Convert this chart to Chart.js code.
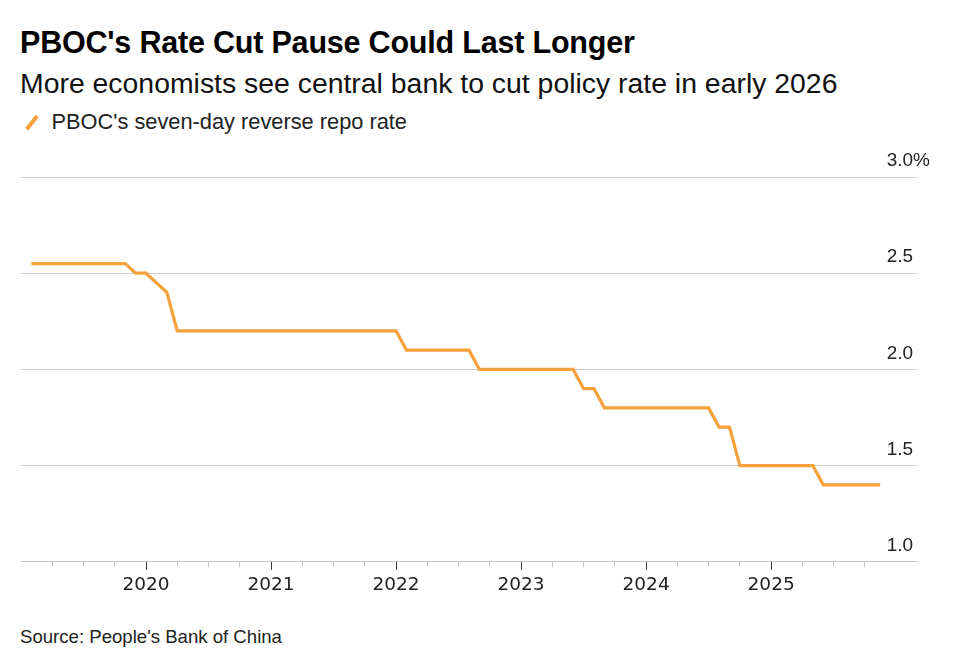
<!DOCTYPE html>
<html>
<head>
<meta charset="utf-8">
<script src="https://cdn.jsdelivr.net/npm/chart.js@4.4.1/dist/chart.umd.min.js"></script>
<style>
  body { margin: 0; width: 955px; height: 670px; background: #fff; position: relative; overflow: hidden;
         font-family: "Liberation Sans", Arial, sans-serif; color: #000; }
  .title { position: absolute; left: 20px; top: 24px; font-size: 30.5px; font-weight: bold; line-height: 36px; letter-spacing: -0.2px; white-space: nowrap; }
  .subtitle { position: absolute; left: 20px; top: 67px; font-size: 28.4px; line-height: 32px; color: #111; white-space: nowrap; }
  .legend { position: absolute; left: 20px; top: 110px; font-size: 21.8px; line-height: 24px; color: #222; white-space: nowrap; }
  .legend .mark { display: inline-block; width: 3.5px; height: 17px; background: #f6a13a; transform: rotate(38deg);
                  margin: 0 18px 0 10px; vertical-align: -2px; border-radius: 1px; }
  .source { position: absolute; left: 20px; top: 626px; font-size: 18.6px; line-height: 22px; color: #222; white-space: nowrap; }
  #wrap { position: absolute; left: 0; top: 140px; width: 955px; height: 470px; }
</style>
</head>
<body>
<div class="title">PBOC's Rate Cut Pause Could Last Longer</div>
<div class="subtitle">More economists see central bank to cut policy rate in early 2026</div>
<div class="legend"><span class="mark"></span>PBOC's seven-day reverse repo rate</div>
<div id="wrap"><canvas id="chart" width="955" height="470"></canvas></div>
<div class="source">Source: People's Bank of China</div>

<script>
// month of each reading (value at start of month)
const months = [
    '2019-02', '2019-03', '2019-04', '2019-05', '2019-06', '2019-07', '2019-08', '2019-09', '2019-10', '2019-11', '2019-12',
    '2020-01', '2020-02', '2020-03', '2020-04', '2020-05', '2020-06', '2020-07', '2020-08', '2020-09', '2020-10', '2020-11', '2020-12',
    '2021-01', '2021-02', '2021-03', '2021-04', '2021-05', '2021-06', '2021-07', '2021-08', '2021-09', '2021-10', '2021-11', '2021-12',
    '2022-01', '2022-02', '2022-03', '2022-04', '2022-05', '2022-06', '2022-07', '2022-08', '2022-09', '2022-10', '2022-11', '2022-12',
    '2023-01', '2023-02', '2023-03', '2023-04', '2023-05', '2023-06', '2023-07', '2023-08', '2023-09', '2023-10', '2023-11', '2023-12',
    '2024-01', '2024-02', '2024-03', '2024-04', '2024-05', '2024-06', '2024-07', '2024-08', '2024-09', '2024-10', '2024-11', '2024-12',
    '2025-01', '2025-02', '2025-03', '2025-04', '2025-05', '2025-06', '2025-07', '2025-08', '2025-09', '2025-10', '2025-11-15'
];
const rates = [
    2.55, 2.55, 2.55, 2.55, 2.55, 2.55, 2.55, 2.55, 2.55, 2.55, 2.50,
    2.50, 2.45, 2.40, 2.20, 2.20, 2.20, 2.20, 2.20, 2.20, 2.20, 2.20, 2.20,
    2.20, 2.20, 2.20, 2.20, 2.20, 2.20, 2.20, 2.20, 2.20, 2.20, 2.20, 2.20,
    2.20, 2.10, 2.10, 2.10, 2.10, 2.10, 2.10, 2.10, 2.00, 2.00, 2.00, 2.00,
    2.00, 2.00, 2.00, 2.00, 2.00, 2.00, 1.90, 1.90, 1.80, 1.80, 1.80, 1.80,
    1.80, 1.80, 1.80, 1.80, 1.80, 1.80, 1.80, 1.70, 1.70, 1.50, 1.50, 1.50,
    1.50, 1.50, 1.50, 1.50, 1.50, 1.40, 1.40, 1.40, 1.40, 1.40, 1.40
];
const yearLabels = ['2020', '2021', '2022', '2023', '2024', '2025'];
const yTickValues = [1.0, 1.5, 2.0, 2.5, 3.0];
const yTickLabels = ['1.0', '1.5', '2.0', '2.5', '3.0%'];

// months counted from Jan 2019
function monthIndex(s) {
    const p = s.split('-').map(Number);
    return (p[0] - 2019) * 12 + (p[1] - 1) + (p[2] ? (p[2] - 1) / 30 : 0);
}

const points = months.map((m, i) => ({ x: monthIndex(m), y: rates[i] }));

const isYear = ctx => ctx.tick && ctx.tick.value % 12 === 0;

new Chart(document.getElementById('chart'), {
    type: 'line',
    data: {
        datasets: [{
            label: "PBOC's seven-day reverse repo rate",
            data: points,
            borderColor: '#f6a13a',
            borderWidth: 3.2,
            pointRadius: 0,
            tension: 0,
            borderJoinStyle: 'miter'
        }]
    },
    options: {
        responsive: false,
        animation: false,
        layout: { padding: { top: 37, left: 21, right: 12, bottom: 10 } },
        plugins: { legend: { display: false }, tooltip: { enabled: false } },
        scales: {
            x: {
                type: 'linear',
                min: 0,
                max: 86,
                afterBuildTicks: scale => {
                    scale.ticks = scale.ticks.filter(t => t.value % 3 === 0 && t.value > 0);
                },
                ticks: {
                    stepSize: 3,
                    autoSkip: false,
                    maxRotation: 0,
                    padding: 4,
                    color: '#222',
                    font: { family: '"DejaVu Sans", sans-serif', size: 18.5 },
                    callback: v => (v % 12 === 0 && v > 0) ? yearLabels[v / 12 - 1] : ''
                },
                grid: {
                    drawOnChartArea: false,
                    drawTicks: true,
                    tickLength: 8,
                    tickWidth: 1,
                    tickColor: ctx => isYear(ctx) ? '#333' : '#c8c8c8',
                    tickBorderDash: ctx => isYear(ctx) ? [] : [5, 20]
                },
                border: { color: '#c8c8c8', width: 1 }
            },
            y: {
                type: 'linear',
                position: 'right',
                min: 1,
                max: 3,
                afterBuildTicks: scale => {
                    scale.ticks = yTickValues.map(v => ({ value: v }));
                },
                ticks: {
                    mirror: true,
                    crossAlign: 'far',
                    padding: 13,
                    labelOffset: -16,
                    color: '#222',
                    font: { family: '"Liberation Sans", Arial, sans-serif', size: 19 },
                    callback: v => yTickLabels[yTickValues.indexOf(v)]
                },
                grid: { color: '#cccccc', lineWidth: 1, drawTicks: false },
                border: { display: false }
            }
        }
    }
});
</script>
</body>
</html>
